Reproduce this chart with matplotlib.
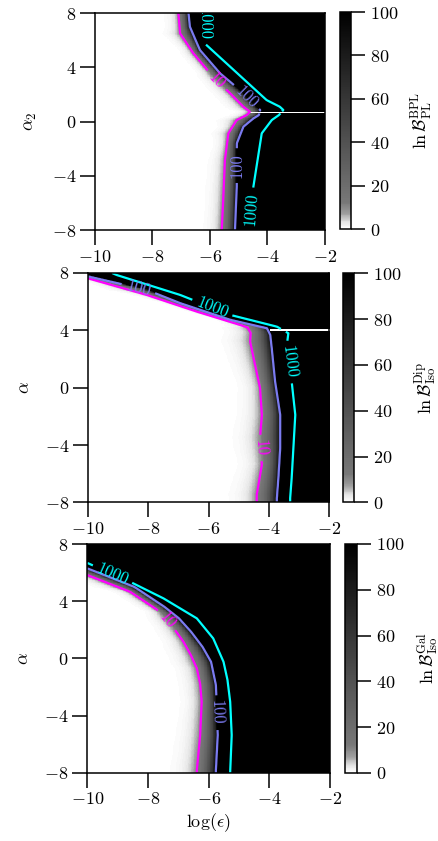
import numpy as np
import matplotlib
matplotlib.use('Agg')
import matplotlib.pyplot as plt
from matplotlib.colors import LinearSegmentedColormap

plt.rcParams['font.family'] = 'serif'
plt.rcParams['font.serif'] = ['cmr10', 'DejaVu Serif']
plt.rcParams['mathtext.fontset'] = 'cm'
plt.rcParams['axes.formatter.use_mathtext'] = True
plt.rcParams['font.size'] = 13

# contour positions: alpha -> log(eps) where lnB = 10 / 100 / 1000
# panel 1: BPL vs PL
bpl_a10 = [-7.95, -5.79, -2.84, -0.87, 0.11, 0.48, 0.72, 1.09, 2.08, 3.30, 5.03, 6.50, 8.0]
bpl_x10 = [-5.59, -5.54, -5.48, -5.36, -5.07, -4.72, -4.61, -4.84, -5.30, -5.89, -6.58, -7.04, -7.10]
bpl_a100 = [-7.95, -4.81, -1.61, -0.38, 0.23, 0.48, 0.85, 1.34, 2.32, 3.55, 5.27, 6.99, 8.0]
bpl_x100 = [-5.13, -5.07, -5.07, -4.84, -4.49, -4.30, -4.26, -4.50, -4.96, -5.65, -6.35, -6.70, -6.75]
bpl_a1000 = [-7.95, -4.80, -0.87, 0.11, 0.48, 0.85, 1.09, 1.58, 5.79, 8.0]
bpl_x1000 = [-4.61, -4.49, -4.20, -3.85, -3.60, -3.45, -3.57, -4.03, -6.20, -6.20]

# panel 2: Dip vs Iso
dip_a10 = [-7.46, -5.37, -3.51, -1.89, -0.03, 3.22, 3.80, 4.20, 4.38, 5.31, 6.47, 7.63, 8.0]
dip_x10 = [-4.40, -4.23, -4.29, -4.23, -4.29, -4.62, -4.60, -4.70, -4.95, -6.39, -8.05, -10.0, -10.5]
dip_a100 = [-7.70, -6.30, -4.21, -1.89, 0.43, 2.75, 3.68, 4.15, 4.73, 5.89, 6.82, 7.75, 8.0]
dip_x100 = [-3.73, -3.68, -3.62, -3.62, -3.79, -3.90, -3.95, -4.06, -5.28, -6.94, -8.05, -10.0, -10.4]
dip_a1000 = [-7.69, -6.30, -1.89, 0.43, 2.99, 3.80, 4.26, 5.08, 6.47, 7.86, 8.0]
dip_x1000 = [-3.29, -3.24, -3.12, -3.24, -3.40, -3.35, -3.73, -5.28, -6.94, -9.05, -9.20]

# panel 3: Gal vs Iso
gal_a10 = [-7.82, -5.37, -3.04, -1.80, -0.70, 0.20, 1.16, 2.20, 3.26, 4.66, 5.83, 8.0]
gal_x10 = [-6.39, -6.28, -6.23, -6.28, -6.39, -6.58, -6.83, -7.18, -7.60, -8.59, -10.0, -12.6]
gal_a100 = [-7.82, -5.37, -1.87, -0.24, 0.80, 1.86, 2.80, 3.61, 5.01, 6.30, 8.0]
gal_x100 = [-5.76, -5.70, -5.76, -5.92, -6.20, -6.58, -6.98, -7.46, -8.45, -10.0, -12.0]
gal_a1000 = [-7.93, -5.37, -3.04, -1.50, -0.24, 1.40, 2.80, 4.20, 5.36, 6.65, 8.0]
gal_x1000 = [-5.29, -5.24, -5.29, -5.38, -5.51, -5.85, -6.39, -7.49, -8.59, -9.97, -11.5]

# degenerate rows (alpha, start of log eps) drawn blank
bpl_stripe = (0.67, -4.6)
dip_stripe = (4.0, -3.95)

eps = np.linspace(-10, -2, 321)
alp = np.linspace(-8, 8, 321)


def build(a10, x10, a100, x100, a1000, x1000, stripe=None):
    X, A = np.meshgrid(eps, alp)
    c10 = np.interp(alp, a10, x10)[:, None]
    c100 = np.interp(alp, a100, x100)[:, None]
    c1000 = np.interp(alp, a1000, x1000)[:, None]
    L = np.where(X <= c100, 1 + (X - c10) / (c100 - c10),
                 2 + (X - c100) / (c1000 - c100))
    Z = 10 ** L
    if stripe is not None:
        Z[(np.abs(A - stripe[0]) < 0.07) & (X > stripe[1])] = np.nan
    return Z


grey = LinearSegmentedColormap.from_list(
    'lnB', [(0, (1, 1, 1)), (0.03, (0.9, 0.9, 0.9)), (0.07, (0.62, 0.62, 0.62)),
            (0.12, (0.47, 0.47, 0.47)), (1.0, (0, 0, 0))])
grey.set_bad('white')

fig = plt.figure(figsize=(4.39, 8.41), dpi=100)

panels = [
    (build(bpl_a10, bpl_x10, bpl_a100, bpl_x100, bpl_a1000, bpl_x1000, bpl_stripe),
     r'$\alpha_2$', r'$\ln\mathcal{B}^{\rm BPL}_{\rm PL}$',
     [0.2164, 0.7265, 0.5239, 0.2580], [0.7745, 0.7277, 0.0251, 0.2580]),
    (build(dip_a10, dip_x10, dip_a100, dip_x100, dip_a1000, dip_x1000, dip_stripe),
     r'$\alpha$', r'$\ln\mathcal{B}^{\rm Dip}_{\rm Iso}$',
     [0.2005, 0.4025, 0.5490, 0.2729], [0.7813, 0.4027, 0.0251, 0.2723]),
    (build(gal_a10, gal_x10, gal_a100, gal_x100, gal_a1000, gal_x1000),
     r'$\alpha$', r'$\ln\mathcal{B}^{\rm Gal}_{\rm Iso}$',
     [0.1989, 0.0812, 0.5528, 0.2719], [0.7859, 0.0809, 0.0262, 0.2723]),
]

for i, (Z, ylab, cblab, pos, cpos) in enumerate(panels):
    ax = fig.add_axes(pos)
    im = ax.imshow(np.clip(Z, 0, 100), origin='lower', extent=[-10, -2, -8, 8],
                   aspect='auto', cmap=grey, vmin=0, vmax=100, interpolation='nearest')
    cs = ax.contour(eps, alp, np.ma.masked_invalid(Z), levels=[10, 100, 1000],
                    colors=['magenta', '#7b7bf0', 'cyan'], linewidths=1.6)
    ax.clabel(cs, fmt='%d', fontsize=12, inline=True)
    ax.set_xlim(-10, -2)
    ax.set_ylim(-8, 8)
    ax.set_xticks([-10, -8, -6, -4, -2])
    ax.set_yticks([-8, -4, 0, 4, 8])
    ax.tick_params(direction='out', length=10.5, width=1.1, pad=3)
    for s in ax.spines.values():
        s.set_linewidth(1.1)
    ax.set_ylabel(ylab, labelpad=9)
    if i == 2:
        ax.set_xlabel(r'$\log(\epsilon)$', labelpad=3)

    cax = fig.add_axes(cpos)
    cb = fig.colorbar(im, cax=cax)
    cb.set_ticks([0, 20, 40, 60, 80, 100])
    cb.ax.tick_params(length=10, width=1.1, pad=4)
    cb.outline.set_linewidth(1.1)
    cb.set_label(cblab, labelpad=8)

fig.savefig('out.png', dpi=100)
